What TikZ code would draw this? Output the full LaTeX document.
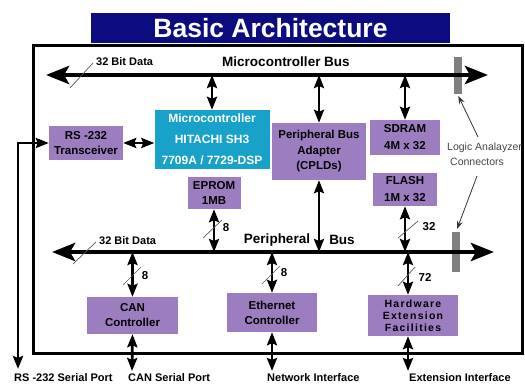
\documentclass[tikz,border=0pt]{standalone}
\usepackage{fontspec}
\setmainfont{Liberation Sans}
\newfontfamily\spacedsans[LetterSpace=12]{Liberation Sans}
\usetikzlibrary{arrows.meta}

\definecolor{titleblue}{RGB}{12,12,128}
\definecolor{mcucyan}{RGB}{24,162,202}
\definecolor{boxpurple}{RGB}{156,126,192}
\definecolor{connbar}{RGB}{128,128,128}
\definecolor{notegray}{RGB}{70,70,70}

\tikzset{
  blk/.style={fill=boxpurple, inner sep=0pt, align=center,
    font=\bfseries\fontsize{11.5}{15}\selectfont},
  bus/.style={line width=4.5pt,
    {Stealth[length=23pt,width=18pt,inset=5pt]}-{Stealth[length=23pt,width=18pt,inset=5pt]}},
  link/.style={line width=2.8pt,
    {Stealth[length=13pt,width=10pt,inset=2pt]}-{Stealth[length=13pt,width=10pt,inset=2pt]}},
  slash/.style={line width=0.7pt, gray!70!black},
  lbl/.style={font=\bfseries\fontsize{11}{12}\selectfont, inner sep=0pt},
  width/.style={font=\bfseries\fontsize{11.5}{12}\selectfont, inner sep=0pt},
  pointer/.style={line width=0.8pt, gray!40!black, -{Stealth[length=8pt,width=6pt]}},
  lacbar/.style={fill=connbar, inner sep=0pt, minimum width=8pt},
}

\begin{document}
\begin{tikzpicture}[x=1pt,y=-1pt]
\useasboundingbox (0,0) rectangle (525,385);

% title banner
\node[fill=titleblue, text=white, minimum width=359pt, minimum height=30pt,
  inner sep=0pt, font=\bfseries\fontsize{26.5}{30}\selectfont] (title) at (270.5,28) {Basic Architecture};

% board outline
\node[draw, line width=3pt, minimum width=489pt, minimum height=307pt, inner sep=0pt]
  (board) at (277.5,199.5) {};

% logic analyzer connector bars
\node[lacbar, minimum height=37pt] (lac1) at (457.5,75.5) {};
\node[lacbar, minimum height=40pt] (lac2) at (456,252) {};

% bus end points
\coordinate (mbL) at (46,75);
\coordinate (mbR) at (488,75);
\coordinate (pbL) at (52,252);
\coordinate (pbR) at (494,252);

% functional blocks
\node[blk, fill=mcucyan, text=white, minimum width=115pt, minimum height=59pt,
  font=\bfseries\fontsize{12}{21}\selectfont] (mcu) at (212,139.5)
  {Microcontroller\\HITACHI SH3\\7709A / 7729-DSP};
\node[blk, minimum width=74pt, minimum height=34pt] (rs) at (86,143) {RS -232\\Transceiver};
\node[blk, minimum width=53pt, minimum height=32pt] (eprom) at (214,193) {EPROM\\1MB};
\node[blk, minimum width=94pt, minimum height=57pt,
  font=\bfseries\fontsize{11.5}{15.5}\selectfont] (pba) at (319,151.5)
  {Peripheral Bus\\Adapter\\(CPLDs)};
\node[blk, minimum width=70pt, minimum height=35pt,
  font=\bfseries\fontsize{11.5}{17}\selectfont] (sdram) at (405,137.5) {SDRAM\\4M x 32};
\node[blk, minimum width=64pt, minimum height=33pt,
  font=\bfseries\fontsize{11.5}{17}\selectfont] (flash) at (405,189.5) {FLASH\\1M x 32};
\node[blk, minimum width=91pt, minimum height=37pt] (can) at (132.5,315.5) {CAN\\Controller};
\node[blk, minimum width=90pt, minimum height=39pt] (eth) at (272,312.5) {Ethernet\\Controller};
\node[blk, minimum width=90pt, minimum height=41pt,
  font=\spacedsans\bfseries\fontsize{10.5}{12}\selectfont] (hw) at (413,315.5)
  {Hardware\\Extension\\Facilities};
\coordinate (hwx) at (408,0);

% buses
\draw[bus] (mbL) -- (mbR);
\draw[bus] (pbL) -- (pbR);
\node[font=\bfseries\fontsize{13.5}{14}\selectfont, inner sep=0pt] (mbname) at (286,62) {Microcontroller Bus};
\node[font=\bfseries\fontsize{13.5}{14}\selectfont, inner sep=0pt] (pbname1) at (277,240) {Peripheral};
\node[font=\bfseries\fontsize{13.5}{14}\selectfont, inner sep=0pt] (pbname2) at (342,240) {Bus};

% bus width annotations
\node[lbl, anchor=west] (mbw) at (96,62) {32 Bit Data};
\draw[slash] (70,88) -- (93,63);
\node[lbl, anchor=west] (pbw) at (99,241) {32 Bit Data};
\draw[slash] (73,264) -- (96,242);

% links to the microcontroller bus
\draw[link] (mbL -| mcu) -- (mcu.north);
\draw[link] (mbL -| pba) -- (pba.north);
\draw[link] (mbL -| sdram) -- (sdram.north);

% serial transceiver links
\draw[link] (rs.east) -- (mcu.west |- rs.east);
\coordinate (rsbend) at (18,143);
\coordinate (rsend) at (18,369);
\draw[link] (rs.west) -- (rsbend) -- (rsend);

% links to the peripheral bus
\draw[link] (eprom.south) -- (pbL -| eprom);
\draw[link] (pba.south) -- (pbL -| pba);
\draw[link] (flash.south) -- (pbL -| flash);
\draw[link] (pbL -| can) -- (can.north);
\draw[link] (pbL -| eth) -- (eth.north);
\draw[link] (pbL -| hwx) -- (hw.north -| hwx);

% slashes and widths of the peripheral links
\draw[slash] (203,238) -- (222,220);
\node[width] (w1) at (226,228) {8};
\draw[slash] (398,238) -- (418,221);
\node[width] (w2) at (429,227) {32};
\draw[slash] (123,285) -- (141,267);
\node[width] (w3) at (145,276) {8};
\draw[slash] (262,284) -- (280,266);
\node[width] (w4) at (284,273) {8};
\draw[slash] (398,286) -- (415,267);
\node[width] (w5) at (425,277) {72};

% external interfaces
\node[lbl, anchor=west] (rsport) at (14,378) {RS -232 Serial Port};
\node[lbl, anchor=west] (canport) at (128,378) {CAN Serial Port};
\node[lbl, anchor=west] (netport) at (267,378) {Network Interface};
\node[lbl, anchor=west] (extport) at (409,378) {Extension Interface};
\coordinate (canend) at (132,371);
\coordinate (ethend) at (272,371);
\coordinate (hwend) at (408,371);
\draw[link] (can.south) -- (canend);
\draw[link] (eth.south) -- (ethend);
\draw[link] (hw.south -| hwx) -- (hwend);

% logic analyzer note
\node[anchor=west, inner sep=0pt, text=notegray, font=\fontsize{10.5}{12}\selectfont] (la1) at (447,148) {Logic Analayzer};
\node[anchor=west, inner sep=0pt, text=notegray, font=\fontsize{10.5}{12}\selectfont] (la2) at (450,162) {Connectors};
\coordinate (la1top) at (478,137);
\coordinate (la2bot) at (477,176);
\draw[pointer, shorten >=2pt] (la1top) -- (lac1.south);
\draw[pointer, shorten >=3pt] (la2bot) -- (lac2.north);
\end{tikzpicture}
\end{document}
